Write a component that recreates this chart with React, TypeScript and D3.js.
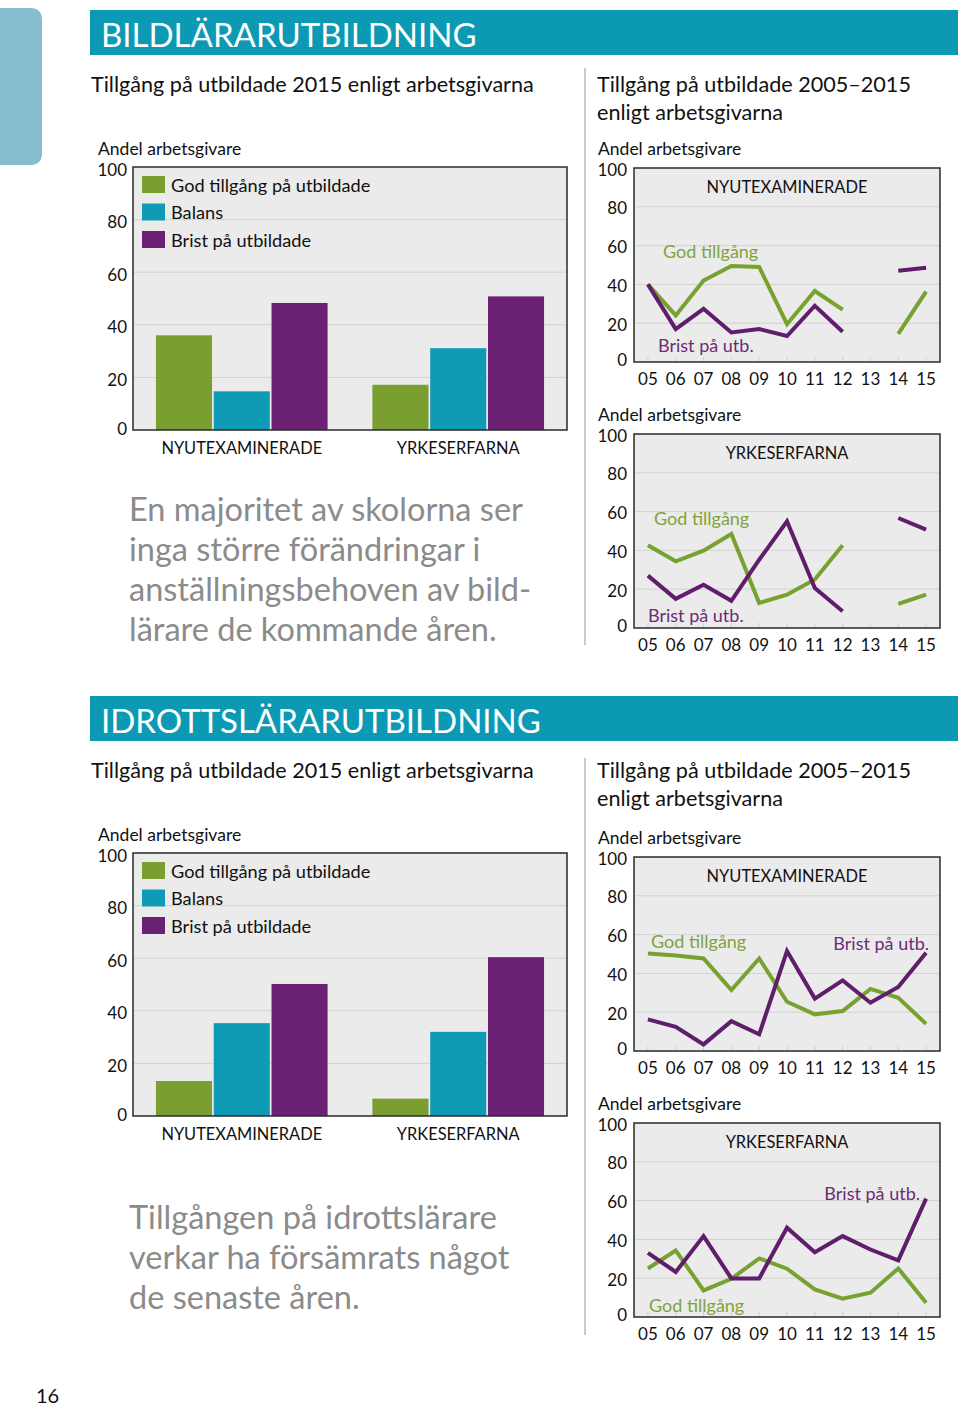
import React from "react";
import * as d3 from "d3";

// ---------- DATA ----------
const barCategories = ["NYUTEXAMINERADE", "YRKESERFARNA"];
const barSeries = ["God tillgång på utbildade", "Balans", "Brist på utbildade"];
const barTicks = [0, 20, 40, 60, 80, 100];

const bildNyutex = [36, 14.7, 48.3];
const bildYrkes = [17.2, 31.1, 50.8];
const idrottNyutex = [13.3, 35.3, 50.2];
const idrottYrkes = [6.6, 32, 60.4];

const years = ["05", "06", "07", "08", "09", "10", "11", "12", "13", "14", "15"];
const bildNyGod = [40, 24, 42, 49.5, 49, 19.5, 36.6, 27, null, 14.5, 36.3];
const bildNyBrist = [40, 17, 27.4, 15.2, 17, 13.4, 29, 15.6, null, 47, 48.6];
const bildYrGod = [42.6, 34.4, 39.9, 48.5, 12.9, 17.2, 25, 42.6, null, 12.4, 17.2];
const bildYrBrist = [27, 15, 22.3, 14, 35.2, 55, 20.6, 8.6, null, 56.7, 50.7];
const idrNyGod = [50.3, 49.2, 47.7, 31.4, 47.7, 25.4, 18.9, 20.6, 32, 27.4, 14];
const idrNyBrist = [16.3, 12.5, 3.4, 15.4, 8.6, 51.5, 27, 36.4, 24.9, 33, 50.6];
const idrYrGod = [25, 34.3, 13.7, 19.7, 30.2, 24.9, 14.2, 9.4, 12.5, 25, 7.4];
const idrYrBrist = [33.1, 23.2, 41.7, 19.9, 19.9, 46, 33.4, 41.7, 34.8, 29.2, 61];

// ---------- STYLE ----------
const FONT = "Lato, 'Open Sans', sans-serif";
const barColors = ["#7a9e2f", "#0f9bb6", "#6b2174"];
const lineGreen = "#78a22f";
const linePurple = "#5f1d6b";
const txtGreen = "#7ea43a";
const txtPurple = "#6b2c77";
const bandColor = "#0b99b4";
const gray = "#8b8b8b";
const plotBg = "#ebebeb";
const gridCol = "#d3d3d3";
const frameCol = "#2a2a2a";

function BarPanel({ top, valuesA, valuesB }: { top: number; valuesA: number[]; valuesB: number[] }) {
  const x0 = 133, x1 = 567, y1 = top + 263;
  const y = d3.scaleLinear().domain([0, 100]).range([y1, top]);
  const gx = d3.scaleBand().domain(barCategories).range([x0, x1]).paddingInner(0.207).paddingOuter(0.106);
  const bx = d3.scaleBand().domain(barSeries).range([0, gx.bandwidth()]).paddingInner(0.03);
  const groups = [valuesA, valuesB];
  return (
    <g fontFamily={FONT}>
      <text x={98} y={top - 19} fontSize={17.5} fill="#111" dominantBaseline="central">Andel arbetsgivare</text>
      <rect x={x0} y={top} width={x1 - x0} height={y1 - top} fill={plotBg} />
      {barTicks.filter((t) => t > 0 && t < 100).map((t) => (
        <line key={t} x1={x0} x2={x1} y1={y(t)} y2={y(t)} stroke={gridCol} strokeWidth={1} />
      ))}
      {barTicks.map((t) => (
        <text key={t} x={127} y={y(t) + (t === 0 ? -2 : 2)} fontSize={17} textAnchor="end" dominantBaseline="central" fill="#111">{t}</text>
      ))}
      {barCategories.map((c, gi) => (
        <g key={c}>
          {groups[gi].map((v, si) => (
            <rect key={si} x={(gx(c) as number) + (bx(barSeries[si]) as number)} y={y(v)} width={bx.bandwidth()} height={y1 - y(v)} fill={barColors[si]} />
          ))}
          <text x={(gx(c) as number) + gx.bandwidth() / 2} y={y1 + 17} fontSize={16.4} textAnchor="middle" dominantBaseline="central" fill="#111">{c}</text>
        </g>
      ))}
      {barSeries.map((s, i) => (
        <g key={s}>
          <rect x={142} y={top + 9 + i * 27.5} width={23} height={17} fill={barColors[i]} />
          <text x={171} y={top + 17.5 + i * 27.5} fontSize={18.2} dominantBaseline="central" fill="#111">{s}</text>
        </g>
      ))}
      <path d={`M${x0},${top}H${x1}V${y1}H${x0}Z`} fill="none" stroke={frameCol} strokeWidth={1.5} />
    </g>
  );
}

type Ann = { text: string; x: number; y: number; color: string; anchor?: string };

function LinePanel({ top, title, green, purple, anns }: { top: number; title: string; green: (number | null)[]; purple: (number | null)[]; anns: Ann[] }) {
  const x0 = 634, x1 = 940, y1 = top + 194;
  const x = d3.scalePoint().domain(years).range([x0, x1]).padding(0.5);
  const y = d3.scaleLinear().domain([0, 100]).range([y1, top]);
  const line = d3
    .line<number | null>()
    .defined((d) => d !== null)
    .x((_, i) => x(years[i]) as number)
    .y((d) => y(d as number));
  return (
    <g fontFamily={FONT}>
      <text x={598} y={top - 20} fontSize={17.5} fill="#111" dominantBaseline="central">Andel arbetsgivare</text>
      <rect x={x0} y={top} width={x1 - x0} height={y1 - top} fill={plotBg} />
      {barTicks.filter((t) => t > 0 && t < 100).map((t) => (
        <line key={t} x1={x0} x2={x1} y1={y(t)} y2={y(t)} stroke={gridCol} strokeWidth={1} />
      ))}
      {years.map((yr) => (
        <line key={yr} x1={x(yr)} x2={x(yr)} y1={y1 - 5} y2={y1} stroke="#cfcfcf" strokeWidth={1} />
      ))}
      {barTicks.map((t) => (
        <text key={t} x={627} y={y(t) + (t === 0 ? -3 : 1)} fontSize={17} textAnchor="end" dominantBaseline="central" fill="#111">{t}</text>
      ))}
      {years.map((yr) => (
        <text key={yr} x={x(yr)} y={y1 + 16} fontSize={17} textAnchor="middle" dominantBaseline="central" fill="#111">{yr}</text>
      ))}
      <text x={787} y={top + 18} fontSize={16.4} textAnchor="middle" dominantBaseline="central" fill="#111">{title}</text>
      <path d={line(green) || ""} fill="none" stroke={lineGreen} strokeWidth={4} strokeLinejoin="miter" />
      <path d={line(purple) || ""} fill="none" stroke={linePurple} strokeWidth={4} strokeLinejoin="miter" />
      {anns.map((a, i) => (
        <text key={i} x={a.x} y={a.y} fontSize={18} fill={a.color} textAnchor={a.anchor || "start"} dominantBaseline="central">{a.text}</text>
      ))}
      <path d={`M${x0},${top}H${x1}V${y1}H${x0}Z`} fill="none" stroke={frameCol} strokeWidth={1.5} />
    </g>
  );
}

function Section({ top, title, subtitleLeft, quote, quoteTop, lines }: any) {
  return (
    <g fontFamily={FONT}>
      <rect x={90} y={top} width={868} height={45} fill={bandColor} />
      <text x={101} y={top + 24} fontSize={33} fill="#fff" dominantBaseline="central">{title}</text>
      <text x={91} y={top + 74} fontSize={21.6} fill="#111" dominantBaseline="central">{subtitleLeft}</text>
      <text x={597} y={top + 74} fontSize={21.6} fill="#111" dominantBaseline="central">Tillgång på utbildade 2005–2015</text>
      <text x={597} y={top + 102} fontSize={21.6} fill="#111" dominantBaseline="central">enligt arbetsgivarna</text>
      {quote.map((q: string, i: number) => (
        <text key={i} x={129} y={quoteTop + i * 40} fontSize={32.5} fill={gray} dominantBaseline="central">{q}</text>
      ))}
      {lines}
    </g>
  );
}

export default function App() {
  return (
    <svg width={960} height={1406} style={{ position: "absolute", left: 0, top: 0, background: "#fff" }}>
      <rect x={0} y={0} width={960} height={1406} fill="#fff" />
      <path d="M0,8 H30 Q42,8 42,20 V153 Q42,165 30,165 H0 Z" fill="#86bcd0" />
      <line x1={585} x2={585} y1={68} y2={645} stroke="#b8b8b8" strokeWidth={1.5} />
      <line x1={585} x2={585} y1={758} y2={1335} stroke="#b8b8b8" strokeWidth={1.5} />
      <Section
        top={10}
        title="BILDLÄRARUTBILDNING"
        subtitleLeft="Tillgång på utbildade 2015 enligt arbetsgivarna"
        quoteTop={508}
        quote={["En majoritet av skolorna ser", "inga större förändringar i", "anställningsbehoven av bild-", "lärare de kommande åren."]}
        lines={
          <>
            <BarPanel top={167} valuesA={bildNyutex} valuesB={bildYrkes} />
            <LinePanel top={168} title="NYUTEXAMINERADE" green={bildNyGod} purple={bildNyBrist}
              anns={[{ text: "God tillgång", x: 663, y: 251, color: txtGreen }, { text: "Brist på utb.", x: 658, y: 345, color: txtPurple }]} />
            <LinePanel top={434} title="YRKESERFARNA" green={bildYrGod} purple={bildYrBrist}
              anns={[{ text: "God tillgång", x: 654, y: 518, color: txtGreen }, { text: "Brist på utb.", x: 648, y: 615, color: txtPurple }]} />
          </>
        }
      />
      <Section
        top={696}
        title="IDROTTSLÄRARUTBILDNING"
        subtitleLeft="Tillgång på utbildade 2015 enligt arbetsgivarna"
        quoteTop={1216}
        quote={["Tillgången på idrottslärare", "verkar ha försämrats något", "de senaste åren."]}
        lines={
          <>
            <BarPanel top={853} valuesA={idrottNyutex} valuesB={idrottYrkes} />
            <LinePanel top={857} title="NYUTEXAMINERADE" green={idrNyGod} purple={idrNyBrist}
              anns={[{ text: "God tillgång", x: 651, y: 941, color: txtGreen }, { text: "Brist på utb.", x: 929, y: 943, color: txtPurple, anchor: "end" }]} />
            <LinePanel top={1123} title="YRKESERFARNA" green={idrYrGod} purple={idrYrBrist}
              anns={[{ text: "Brist på utb.", x: 920, y: 1193, color: txtPurple, anchor: "end" }, { text: "God tillgång", x: 649, y: 1305, color: txtGreen }]} />
          </>
        }
      />
      <text x={36} y={1395} fontSize={20} fontFamily={FONT} fill="#111" dominantBaseline="central">16</text>
    </svg>
  );
}
